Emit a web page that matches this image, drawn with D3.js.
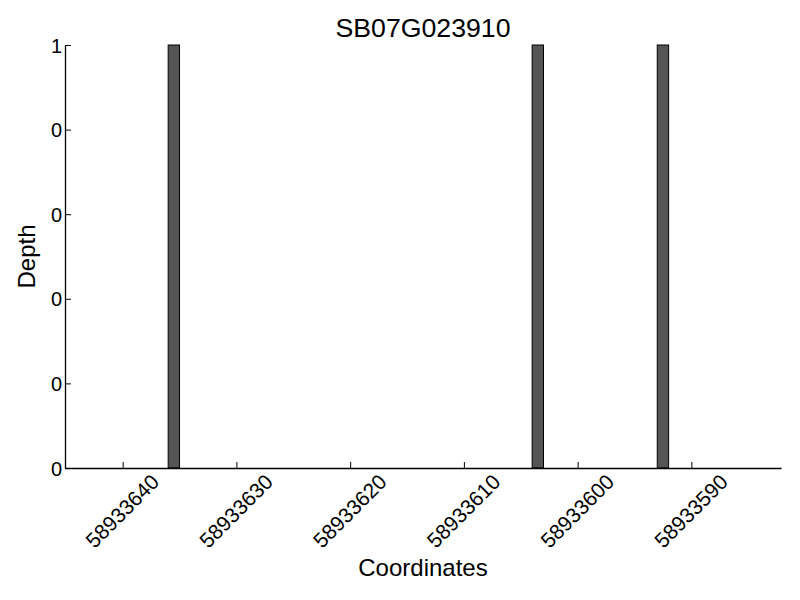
<!DOCTYPE html>
<html>
<head>
<meta charset="utf-8">
<script src="https://cdn.jsdelivr.net/npm/d3@7"></script>
<style>
  body { margin: 0; background: #fff; }
  text { font-family: "Liberation Sans", Arial, sans-serif; fill: #000; }
</style>
</head>
<body>
<svg width="800" height="600"></svg>
<script>
// data
var positions = [58933636, 58933604, 58933593];
var depths = [1, 1, 1];
var xTicks = [58933640, 58933630, 58933620, 58933610, 58933600, 58933590];
var yTicks = [0, 0.2, 0.4, 0.6, 0.8, 1];
var title = "SB07G023910";

var svg = d3.select("svg");

var mLeft = 65, mRight = 781, mTop = 45, mBottom = 468;

// reversed axis (coordinates run right to left)
var x = d3.scaleLinear()
  .domain([58933645.07, 58933582.12])
  .range([mLeft, mRight]);

var y = d3.scaleLinear()
  .domain([0, 1])
  .range([mBottom, mTop]);

// bars, 1 unit wide, left edge at position
svg.append("g")
  .selectAll("rect")
  .data(positions)
  .enter().append("rect")
  .attr("x", function(d) { return x(d); })
  .attr("width", function(d) { return x(d - 1) - x(d); })
  .attr("y", function(d, i) { return y(depths[i]); })
  .attr("height", function(d, i) { return y(0) - y(depths[i]); })
  .attr("fill", "#555555")
  .attr("stroke", "#000")
  .attr("stroke-width", 1);

// x axis
var xAxis = d3.axisBottom(x)
  .tickValues(xTicks)
  .tickSizeInner(-6)
  .tickSizeOuter(0)
  .tickFormat(d3.format("d"));

var gx = svg.append("g")
  .attr("transform", "translate(0," + mBottom + ")")
  .call(xAxis);
gx.select(".domain").attr("stroke", "#000").attr("stroke-width", 1.3);
gx.selectAll(".tick line").attr("stroke", "#000");
gx.selectAll(".tick text")
  .attr("y", 0)
  .attr("dy", 0)
  .attr("text-anchor", "middle")
  .attr("dominant-baseline", "central")
  .attr("transform", "translate(-1,43) rotate(-45)")
  .style("font-size", "21px");

// y axis, labels truncated to integers like the original
var yAxis = d3.axisLeft(y)
  .tickValues(yTicks)
  .tickSizeInner(-6)
  .tickSizeOuter(0)
  .tickFormat(function(d) { return String(Math.floor(d)); });

var gy = svg.append("g")
  .attr("transform", "translate(" + mLeft + ",0)")
  .call(yAxis);
gy.select(".domain").attr("stroke", "#000").attr("stroke-width", 1.3);
gy.selectAll(".tick line").attr("stroke", "#000");
gy.selectAll(".tick text")
  .attr("x", -3)
  .attr("dy", "0.35em")
  .style("font-size", "20px");

// labels
svg.append("text")
  .attr("x", (mLeft + mRight) / 2)
  .attr("y", 36.5)
  .attr("text-anchor", "middle")
  .style("font-size", "26.7px")
  .text(title);

svg.append("text")
  .attr("x", (mLeft + mRight) / 2)
  .attr("y", 576)
  .attr("text-anchor", "middle")
  .style("font-size", "24px")
  .text("Coordinates");

svg.append("text")
  .attr("transform", "translate(35," + (mTop + mBottom) / 2 + ") rotate(-90)")
  .attr("text-anchor", "middle")
  .style("font-size", "24px")
  .text("Depth");
</script>
</body>
</html>
